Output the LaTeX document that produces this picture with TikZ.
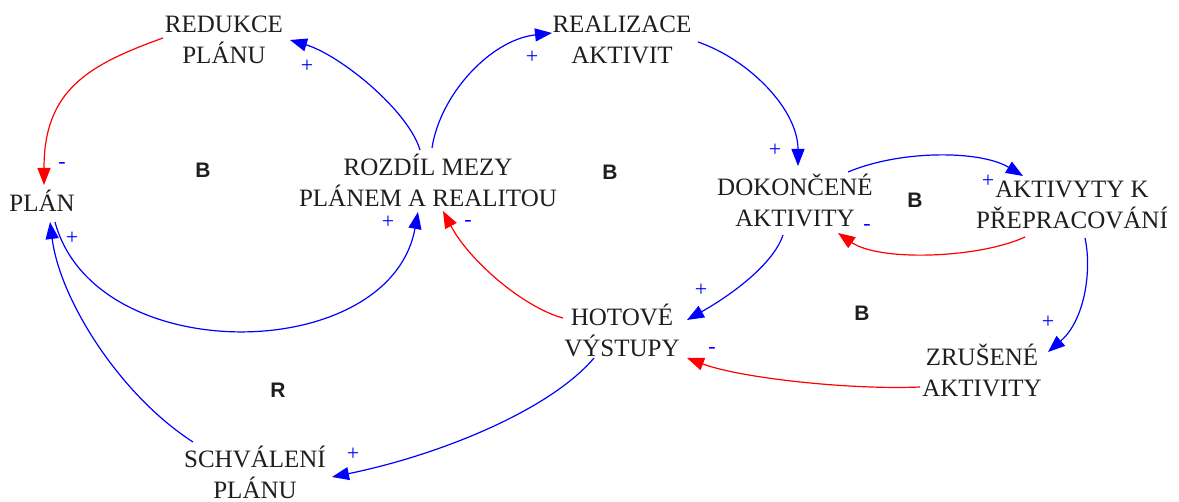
\documentclass[tikz,border=0pt]{standalone}
\usepackage{fontspec}
\setmainfont{Liberation Serif}
\newfontfamily\loopfont{Liberation Sans}
\usetikzlibrary{arrows.meta,calc}
\definecolor{txt}{RGB}{30,30,30}
\definecolor{pos}{RGB}{0,0,255}
\definecolor{neg}{RGB}{255,0,0}
\tikzset{
  var/.style={align=center,text=txt,font=\fontsize{25}{31}\selectfont,inner sep=0pt},
  sign/.style={text=pos,font=\fontsize{22}{22}\selectfont,inner sep=0pt},
  loopmark/.style={text=txt,font=\loopfont\bfseries\fontsize{21}{21}\selectfont,inner sep=0pt},
  link/.style={line width=1.2pt,-{Triangle[length=17pt,width=13pt]}},
  plink/.style={link,draw=pos},
  nlink/.style={link,draw=neg},
}
\begin{document}
\begin{tikzpicture}[x=1pt,y=-1pt]
\useasboundingbox[fill=white] (0,0) rectangle (1179,502);

% variables
\node[var] (red) at (224,40)  {REDUKCE\\PLÁNU};
\node[var] (pl)  at (42,201)  {PLÁN};
\node[var] (roz) at (428,180) {ROZDÍL MEZY\\PLÁNEM A REALITOU};
\node[var] (rea) at (622,40)  {REALIZACE\\AKTIVIT};
\node[var] (dok) at (795,200) {DOKONČENÉ\\AKTIVITY};
\node[var] (akt) at (1072,205){AKTIVYTY K\\PŘEPRACOVÁNÍ};
\node[var] (hot) at (622,330) {HOTOVÉ\\VÝSTUPY};
\node[var] (zru) at (982,370) {ZRUŠENÉ\\AKTIVITY};
\node[var] (sch) at (255,472) {SCHVÁLENÍ\\PLÁNU};

% loop markers
\node[loopmark] (l1) at (203,170) {B};
\node[loopmark] (l2) at (610,172) {B};
\node[loopmark] (l3) at (915,200) {B};
\node[loopmark] (l4) at (862,313) {B};
\node[loopmark] (l5) at (278,390) {R};

% causal links
\draw[nlink] ($(red)+(-61,-2)$) .. controls (88,65) and (44,90) .. ($(pl)+(2,-16)$);
\draw[plink] ($(roz)+(-8,-30)$) .. controls (408,110) and (340,55) .. ($(red)+(66,0)$);
\draw[plink] ($(roz)+(4,-32)$) .. controls (440,95) and (490,40) .. ($(rea)+(-70,-7)$);
\draw[plink] ($(rea)+(76,2)$) .. controls (750,60) and (798,110) .. ($(dok)+(3,-34)$);
\draw[plink] ($(dok)+(53,-28)$) .. controls (900,150) and (980,150) .. ($(akt)+(-49,-29)$);
\draw[nlink] ($(akt)+(-47,32)$) .. controls (980,258) and (880,262) .. ($(dok)+(43,33)$);
\draw[plink] ($(akt)+(13,33)$) .. controls (1092,270) and (1085,320) .. ($(zru)+(66,-18)$);
\draw[nlink] ($(zru)+(-62,17)$) .. controls (850,390) and (740,378) .. ($(hot)+(65,28)$);
\draw[plink] ($(dok)+(-12,35)$) .. controls (775,260) and (740,290) .. ($(hot)+(65,-10)$);
\draw[nlink] ($(hot)+(-59,-12)$) .. controls (525,308) and (470,262) .. ($(roz)+(15,31)$);
\draw[plink] ($(pl)+(13,21)$) .. controls (95,370) and (390,365) .. ($(roz)+(-10,32)$);
\draw[plink] ($(sch)+(-62,-30)$) .. controls (120,395) and (60,300) .. ($(pl)+(8,21)$);
\draw[plink] ($(hot)+(-28,28)$) .. controls (550,410) and (440,455) .. ($(sch)+(77,5)$);

% link polarities
\node[sign] (p1)  at (62,166)   {-};
\node[sign] (p2)  at (307,66)   {+};
\node[sign] (p3)  at (72,238)   {+};
\node[sign] (p4)  at (388,222)  {+};
\node[sign] (p5)  at (532,57)   {+};
\node[sign] (p6)  at (468,224)  {-};
\node[sign] (p7)  at (775,150)  {+};
\node[sign] (p8)  at (988,181)  {+};
\node[sign] (p9)  at (867,228)  {-};
\node[sign] (p10) at (1048,322) {+};
\node[sign] (p11) at (701,290)  {+};
\node[sign] (p12) at (712,350)  {-};
\node[sign] (p13) at (353,454)  {+};
\end{tikzpicture}
\end{document}
